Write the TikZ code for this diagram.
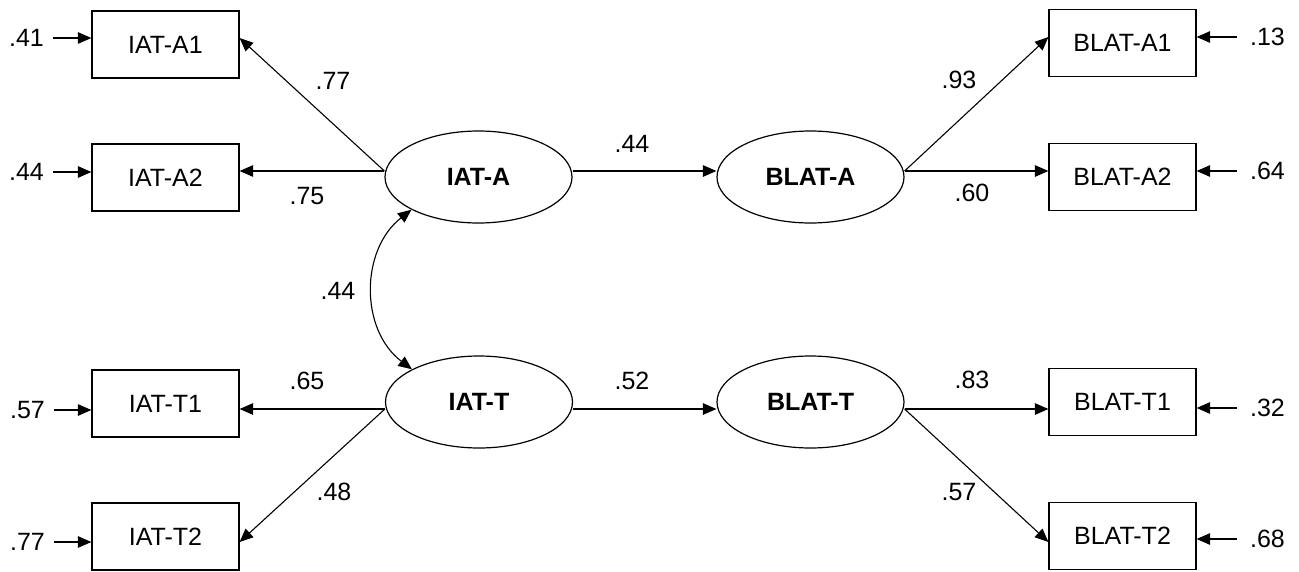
\documentclass[tikz,border=0pt]{standalone}
\usepackage{fontspec}
\setmainfont{Liberation Sans}
\usetikzlibrary{arrows.meta,calc,shapes.geometric}

\tikzset{
  every node/.style={font=\fontsize{25}{29}\selectfont},
  obsbox/.style={draw, line width=1.2pt, minimum width=147pt, minimum height=67pt, inner sep=0pt},
  latent/.style={draw, ellipse, line width=1.2pt, minimum width=187pt, minimum height=92pt, inner sep=0pt, font=\fontsize{25}{29}\selectfont\bfseries},
  errl/.style={inner ysep=0pt, inner xsep=9pt},
  errr/.style={inner ysep=0pt, inner xsep=13pt},
  coef/.style={inner sep=0pt},
  arr/.style={line width=1.1pt, -{Triangle[length=13.5pt,width=11.5pt]}},
  corr/.style={line width=1.1pt, {Triangle[length=13.5pt,width=11.5pt]}-{Triangle[length=13.5pt,width=11.5pt]}}
}

\begin{document}
\begin{tikzpicture}[x=1pt,y=-1pt]
\useasboundingbox (0,0) rectangle (1299,571);

% observed indicators
\node[obsbox] (a1)  at (165.5,44.5)  {IAT-A1};
\node[obsbox] (a2)  at (165.5,177.5) {IAT-A2};
\node[obsbox] (t1)  at (165.5,403.5) {IAT-T1};
\node[obsbox] (t2)  at (165.5,536.5) {IAT-T2};
\node[obsbox] (ba1) at (1122.5,43)   {BLAT-A1};
\node[obsbox] (ba2) at (1122.5,177)  {BLAT-A2};
\node[obsbox] (bt1) at (1122.5,402)  {BLAT-T1};
\node[obsbox] (bt2) at (1122.5,536)  {BLAT-T2};

% latent factors
\node[latent] (IATA)  at (478.5,177) {IAT-A};
\node[latent] (IATT)  at (479,402)   {IAT-T};
\node[latent] (BLATA) at (810.5,177) {BLAT-A};
\node[latent] (BLATT) at (810.5,402) {BLAT-T};

% attachment points of the paths (upper row above centre, lower row below)
\coordinate (iaW) at ($(IATA.west)+(0,-6)$);
\coordinate (iaE) at ($(IATA.east)+(0,-6)$);
\coordinate (baW) at ($(BLATA.west)+(0,-6)$);
\coordinate (baE) at ($(BLATA.east)+(0,-6)$);
\coordinate (itW) at ($(IATT.west)+(0,7)$);
\coordinate (itE) at ($(IATT.east)+(0,7)$);
\coordinate (btW) at ($(BLATT.west)+(0,7)$);
\coordinate (btE) at ($(BLATT.east)+(0,7)$);

% loadings
\draw[arr] (iaW) -- ($(a1.east)+(0,-6.5)$);
\draw[arr] (iaW) -- (iaW -| a2.east);
\draw[arr] (itW) -- (itW -| t1.east);
\draw[arr] (itW) -- ($(t2.east)+(0,5.5)$);
\draw[arr] (baE) -- ($(ba1.west)+(0,-6)$);
\draw[arr] (baE) -- (baE -| ba2.west);
\draw[arr] (btE) -- (btE -| bt1.west);
\draw[arr] (btE) -- ($(bt2.west)+(0,6)$);

% structural paths
\draw[arr] (iaE) -- (baW);
\draw[arr] (itE) -- (btW);

% correlation between the IAT factors
\draw[corr] (IATA.206) .. controls (360,250) and (360,330) .. (IATT.154);

% error variances
\node[errl] (ea1) at (26.5,38)  {.41};
\node[errl] (ea2) at (26.5,172) {.44};
\node[errl] (et1) at (27.5,410) {.57};
\node[errl] (et2) at (27.5,542) {.77};
\node[errr] (eba1) at (1267.5,37)  {.13};
\node[errr] (eba2) at (1267.5,171) {.64};
\node[errr] (ebt1) at (1267.5,408) {.32};
\node[errr] (ebt2) at (1267.5,539) {.68};

\draw[arr] (ea1.east) -- (ea1.east -| a1.west);
\draw[arr] (ea2.east) -- (ea2.east -| a2.west);
\draw[arr] (et1.east) -- (et1.east -| t1.west);
\draw[arr] (et2.east) -- (et2.east -| t2.west);
\draw[arr] (eba1.west) -- (eba1.west -| ba1.east);
\draw[arr] (eba2.west) -- (eba2.west -| ba2.east);
\draw[arr] (ebt1.west) -- (ebt1.west -| bt1.east);
\draw[arr] (ebt2.west) -- (ebt2.west -| bt2.east);

% coefficients
\node[coef] (l77) at (333,81)  {.77};
\node[coef] (l75) at (307,196) {.75};
\node[coef] (l44a) at (632,144) {.44};
\node[coef] (l93) at (959,80)  {.93};
\node[coef] (l60) at (972,193) {.60};
\node[coef] (l44c) at (338,291) {.44};
\node[coef] (l65) at (307,381) {.65};
\node[coef] (l52) at (632,381) {.52};
\node[coef] (l48) at (334,492) {.48};
\node[coef] (l83) at (972,380) {.83};
\node[coef] (l57) at (959,492) {.57};
\end{tikzpicture}
\end{document}
